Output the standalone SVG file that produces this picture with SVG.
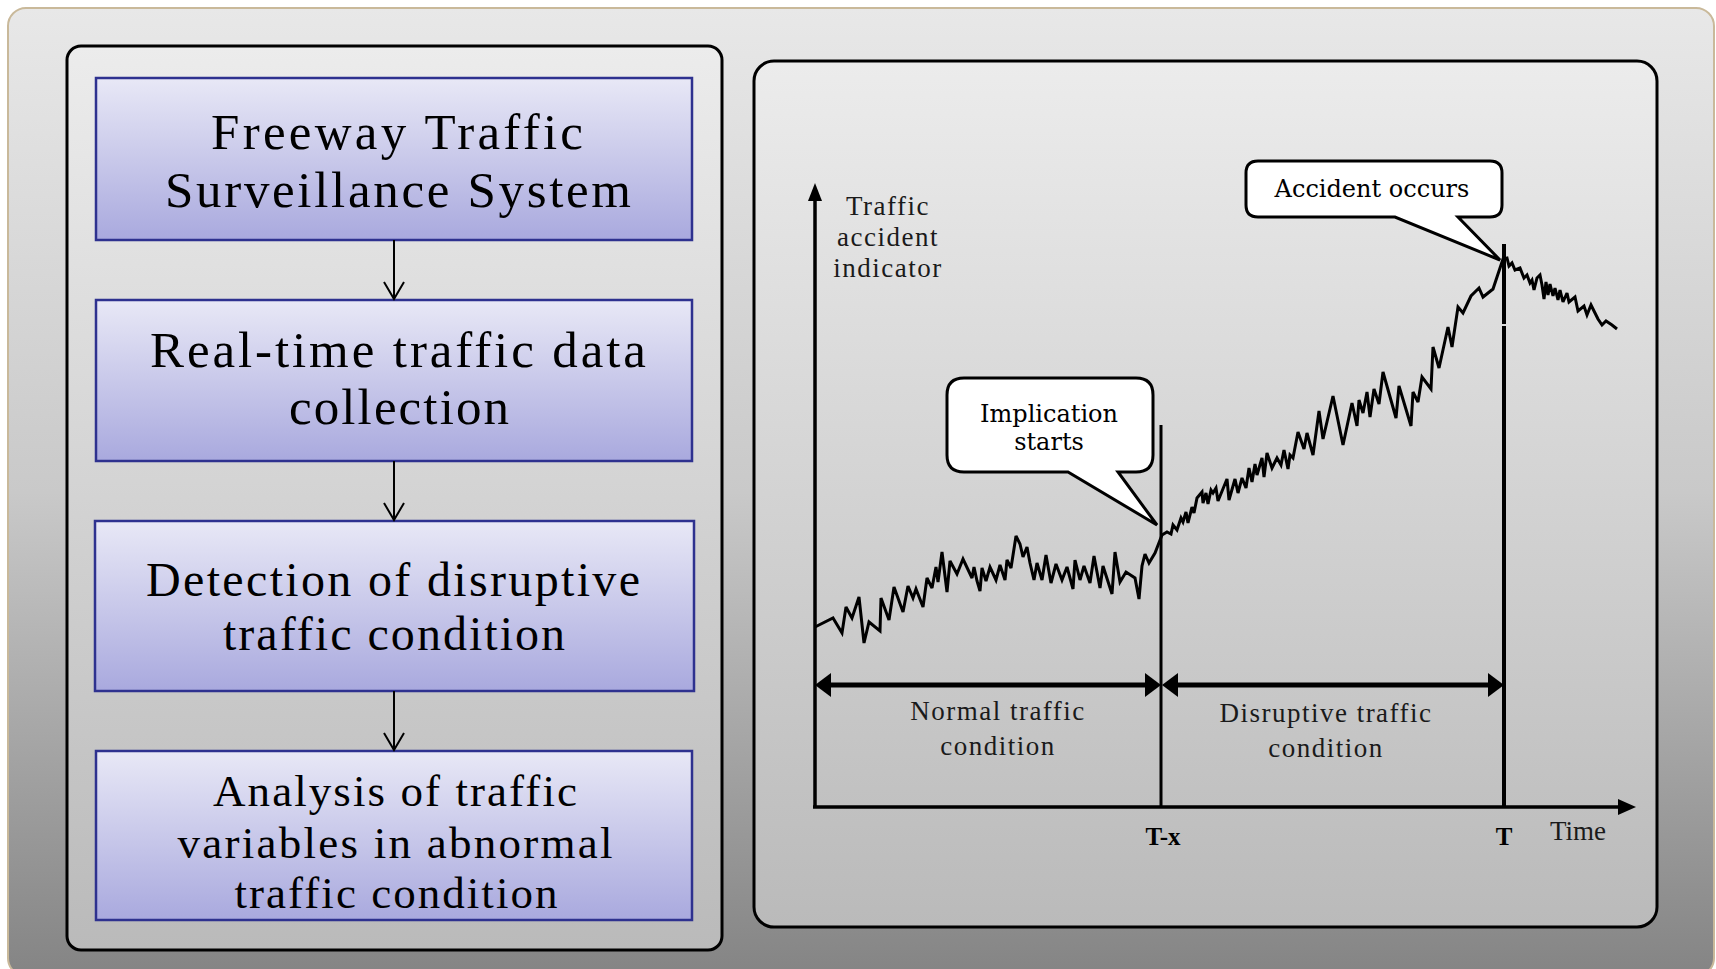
<svg xmlns="http://www.w3.org/2000/svg" width="1716" height="969" viewBox="0 0 1716 969">
<defs>
<linearGradient id="gOuter" x1="0" y1="0" x2="0" y2="1">
<stop offset="0" stop-color="#e8e8e8"/>
<stop offset="0.5" stop-color="#c9c9c9"/>
<stop offset="1" stop-color="#848484"/>
</linearGradient>
<linearGradient id="gPanel" x1="0" y1="0" x2="0" y2="1">
<stop offset="0" stop-color="#ececec"/>
<stop offset="1" stop-color="#bababa"/>
</linearGradient>
<linearGradient id="gBox" x1="0" y1="0" x2="0" y2="1">
<stop offset="0" stop-color="#e8e8f6"/>
<stop offset="1" stop-color="#a9a9de"/>
</linearGradient>
<marker id="open" markerWidth="24" markerHeight="24" refX="20" refY="12" orient="auto" markerUnits="userSpaceOnUse" viewBox="0 0 24 24">
<path d="M3,2 L20,12 L3,22" fill="none" stroke="#000" stroke-width="2"/>
</marker>
</defs>
<style>
.box{fill:url(#gBox);stroke:#2e318f;stroke-width:2.5}
.bt{font-family:"Liberation Serif",serif;font-size:51px;fill:#000;text-anchor:middle}
.b3{font-size:48px}
.b4{font-size:45px}
.conn{stroke:#000;stroke-width:2;fill:none}
.lbl{font-family:"Liberation Serif",serif;font-size:27px;letter-spacing:1.5px;fill:#1a1a1a;text-anchor:middle}
.co{fill:#fff;stroke:#000;stroke-width:3;stroke-linejoin:miter}
.cot{font-family:"DejaVu Serif",serif;font-size:24px;fill:#000;text-anchor:middle}
.ax{stroke:#000;stroke-width:3.5;fill:none}
</style>
<rect width="1716" height="969" fill="#ffffff"/>
<rect x="8" y="8" width="1706" height="968" rx="18" fill="url(#gOuter)" stroke="#c9b99a" stroke-width="2"/>

<g id="left-panel">
<rect x="67" y="46" width="655" height="904" rx="14" fill="url(#gPanel)" stroke="#000" stroke-width="3"/>
</g>

<g id="box1">
<rect class="box" x="96" y="78" width="596" height="162"/>
<text class="bt" x="397" y="149" textLength="372" lengthAdjust="spacing">Freeway Traffic</text>
<text class="bt" x="398" y="207" textLength="466" lengthAdjust="spacing">Surveillance System</text>
</g>
<g id="box2">
<rect class="box" x="96" y="300" width="596" height="161"/>
<text class="bt" x="398" y="367" textLength="496" lengthAdjust="spacing">Real-time traffic data</text>
<text class="bt" x="399" y="424" textLength="220" lengthAdjust="spacing">collection</text>
</g>
<g id="box3">
<rect class="box" x="95" y="521" width="599" height="170"/>
<text class="bt b3" x="393" y="596" textLength="494" lengthAdjust="spacing">Detection of disruptive</text>
<text class="bt b3" x="394" y="650" textLength="342" lengthAdjust="spacing">traffic condition</text>
</g>
<g id="box4">
<rect class="box" x="96" y="751" width="596" height="169"/>
<text class="bt b4" x="395" y="806" textLength="364" lengthAdjust="spacing">Analysis of traffic</text>
<text class="bt b4" x="395" y="858" textLength="435" lengthAdjust="spacing">variables in abnormal</text>
<text class="bt b4" x="396" y="908" textLength="323" lengthAdjust="spacing">traffic condition</text>
</g>

<g id="connectors">
<line class="conn" x1="394" y1="240" x2="394" y2="299" marker-end="url(#open)"/>
<line class="conn" x1="394" y1="461" x2="394" y2="520" marker-end="url(#open)"/>
<line class="conn" x1="394" y1="691" x2="394" y2="750" marker-end="url(#open)"/>
</g>

<g id="chart">
<rect id="right-panel" x="754" y="61" width="903" height="866" rx="20" fill="url(#gPanel)" stroke="#000" stroke-width="3"/>

<g id="axes">
<line class="ax" x1="815" y1="198" x2="815" y2="808"/>
<polygon points="815,183 808,201 822,201" fill="#000"/>
<line class="ax" x1="813" y1="807" x2="1620" y2="807"/>
<polygon points="1636,807 1618,799 1618,815" fill="#000"/>
<text class="lbl" x="888" y="215" font-size="26">Traffic</text>
<text class="lbl" x="888" y="246" font-size="26">accident</text>
<text class="lbl" x="888" y="277" font-size="26">indicator</text>
<text x="1578" y="840" font-family="Liberation Serif, serif" font-size="27" fill="#1a1a1a" text-anchor="middle">Time</text>
<text x="1163" y="845" font-family="Liberation Serif, serif" font-size="25" font-weight="bold" fill="#000" text-anchor="middle">T-x</text>
<text x="1504" y="845" font-family="Liberation Serif, serif" font-size="25" font-weight="bold" fill="#000" text-anchor="middle">T</text>
</g>

<g id="markers">
<line x1="1161" y1="425" x2="1161" y2="807" stroke="#000" stroke-width="3"/>
<line x1="1504" y1="244" x2="1504" y2="324" stroke="#000" stroke-width="4"/>
<line x1="1504" y1="326" x2="1504" y2="807" stroke="#000" stroke-width="4"/>
</g>

<g id="periods">
<line x1="825" y1="685" x2="1152" y2="685" stroke="#000" stroke-width="5"/>
<polygon points="815,685 831,673 831,697" fill="#000"/>
<polygon points="1161,685 1145,673 1145,697" fill="#000"/>
<line x1="1171" y1="685" x2="1494" y2="685" stroke="#000" stroke-width="5"/>
<polygon points="1162,685 1178,673 1178,697" fill="#000"/>
<polygon points="1504,685 1488,673 1488,697" fill="#000"/>
<text class="lbl" x="998" y="720">Normal traffic</text>
<text class="lbl" x="998" y="755">condition</text>
<text class="lbl" x="1326" y="722">Disruptive traffic</text>
<text class="lbl" x="1326" y="757">condition</text>
</g>

<polyline id="indicator-curve" fill="none" stroke="#000" stroke-width="3" stroke-linejoin="miter" stroke-miterlimit="3" points="815,627 833,618 842,633 846,607 852,618 859,597 864,643 869,622 880,631 881,598 889,620 894,587 903,612 908,586 913,598 916,589 923,607 927,578 932,588 936,567 938,582 942,552 947,592 950,561 957,574 963,559 972,578 974,567 977,581 980,591 982,568 986,581 990,567 996,580 1000,565 1005,580 1007,560 1011,568 1016,536 1020,544 1023,557 1027,547 1030,563 1034,580 1037,563 1042,580 1046,555 1051,583 1056,564 1062,580 1067,567 1073,589 1075,560 1080,580 1084,566 1090,583 1094,556 1100,588 1103,566 1112,594 1115,552 1120,582 1126,572 1135,578 1139,599 1142,566 1145,554 1149,563 1155,553 1162,535 1167,532 1171,534 1173,525 1177,530 1181,518 1183,522 1186,512 1188,523 1192,507 1194,513 1197,498 1202,492 1203,503 1206,493 1208,504 1211,490 1213,493 1216,488 1218,501 1227,479 1229,500 1235,479 1238,493 1242,478 1246,488 1249,468 1252,482 1255,464 1257,475 1262,458 1264,477 1267,453 1272,468 1277,458 1281,465 1284,450 1288,469 1290,455 1293,458 1298,432 1304,449 1307,433 1313,455 1319,411 1323,439 1333,396 1343,445 1352,403 1357,426 1359,400 1363,413 1367,392 1370,417 1374,389 1379,404 1383,372 1396,418 1399,386 1411,426 1413,392 1418,402 1422,377 1431,389 1433,347 1439,368 1448,327 1452,347 1458,307 1463,313 1471,296 1479,288 1483,297 1493,289 1503,259 1507,258 1509,266 1512,263 1515,270 1520,268 1524,278 1527,275 1530,283 1532,280 1534,290 1537,278 1540,275 1542,285 1544,299 1546,282 1548,295 1550,284 1553,296 1555,288 1558,300 1560,290 1563,302 1567,293 1569,302 1575,297 1578,311 1584,306 1587,315 1591,305 1598,319 1602,325 1606,321 1612,325 1617,329"/>

<g id="callout-implication">
<path class="co" d="M964,378 H1136 Q1153,378 1153,395 V455 Q1153,472 1136,472 H1118 L1157,525 L1068,472 H964 Q947,472 947,455 V395 Q947,378 964,378 Z"/>
<text class="cot" x="1049" y="422">Implication</text>
<text class="cot" x="1049" y="450">starts</text>
</g>

<g id="callout-accident">
<path class="co" d="M1258,161 H1490 Q1502,161 1502,173 V205 Q1502,217 1490,217 H1458 L1500,260 L1395,217 H1258 Q1246,217 1246,205 V173 Q1246,161 1258,161 Z"/>
<text class="cot" x="1372" y="197" font-size="24.5">Accident occurs</text>
</g>
</g>
</svg>
